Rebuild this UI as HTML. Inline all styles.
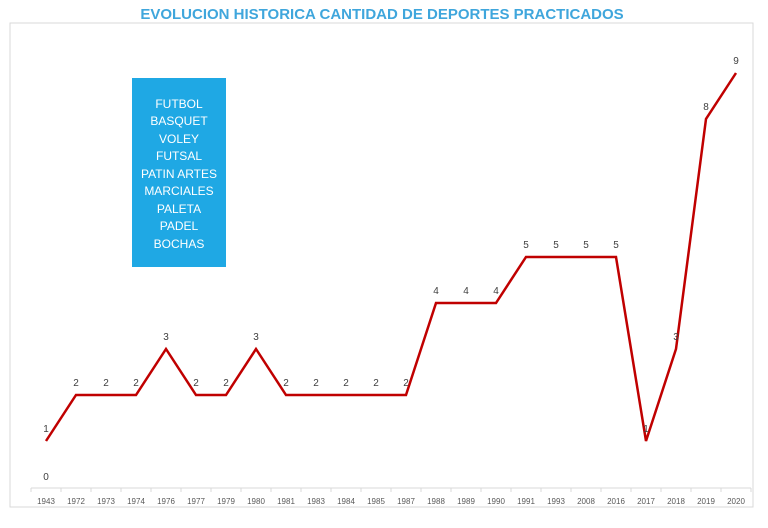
<!DOCTYPE html>
<html><head><meta charset="utf-8"><style>
body{margin:0;background:#fff;width:768px;height:523px;overflow:hidden;font-family:"Liberation Sans",sans-serif}
</style></head><body>
<svg width="768" height="523">
<text x="382" y="19" text-anchor="middle" font-size="15" font-weight="bold" fill="#3fa6dc">EVOLUCION HISTORICA CANTIDAD DE DEPORTES PRACTICADOS</text>
<rect x="10" y="23" width="743" height="484" fill="none" stroke="#d9d9d9"/>
<line x1="31" y1="488" x2="751" y2="488" stroke="#d9d9d9"/>
<g id="ticks"></g><g id="xl"></g>
<polyline id="line" fill="none" stroke="#c00000" stroke-width="2.5"/>
<g id="vl"></g>
<text x="46" y="480" text-anchor="middle" font-size="10" fill="#404040">0</text>
<rect x="132" y="78" width="94" height="189" fill="#1fa8e4"/>
<g font-size="12" fill="#fff" text-anchor="middle">
<text x="179" y="108">FUTBOL</text><text x="179" y="125">BASQUET</text><text x="179" y="143">VOLEY</text><text x="179" y="160">FUTSAL</text><text x="179" y="178">PATIN ARTES</text><text x="179" y="195">MARCIALES</text><text x="179" y="213">PALETA</text><text x="179" y="230">PADEL</text><text x="179" y="248">BOCHAS</text>
</g>
</svg>
<script>
const categories=["1943","1972","1973","1974","1976","1977","1979","1980","1981","1983","1984","1985","1987","1988","1989","1990","1991","1993","2008","2016","2017","2018","2019","2020"];
const values=[1,2,2,2,3,2,2,3,2,2,2,2,2,4,4,4,5,5,5,5,1,3,8,9];
const ns="http://www.w3.org/2000/svg";
const x0=31,step=30,yBase=487,unit=46;
const xs=i=>x0+step*i+step/2, ys=v=>yBase-unit*v;
const tk=document.getElementById('ticks'),xl=document.getElementById('xl'),vl=document.getElementById('vl');
for(let i=0;i<=categories.length;i++){const l=document.createElementNS(ns,'line');


l.setAttribute('x1',x0+step*i);l.setAttribute('x2',x0+step*i);l.setAttribute('y1',488);l.setAttribute('y2',492);l.setAttribute('stroke','#d9d9d9');tk.appendChild(l);}
let pts=[];
categories.forEach((c,i)=>{const t=document.createElementNS(ns,'text');


t.setAttribute('x',xs(i));t.setAttribute('y',504);t.setAttribute('text-anchor','middle');t.setAttribute('font-size','8');t.setAttribute('fill','#595959');t.textContent=c;xl.appendChild(t);
pts.push(xs(i)+','+ys(values[i]));
const v=document.createElementNS(ns,'text');


v.setAttribute('x',xs(i));v.setAttribute('y',ys(values[i])-9);v.setAttribute('text-anchor','middle');v.setAttribute('font-size','10');v.setAttribute('fill','#404040');v.textContent=values[i];vl.appendChild(v);});
document.getElementById('line').setAttribute('points',pts.join(' '));
</script>
</body></html>
